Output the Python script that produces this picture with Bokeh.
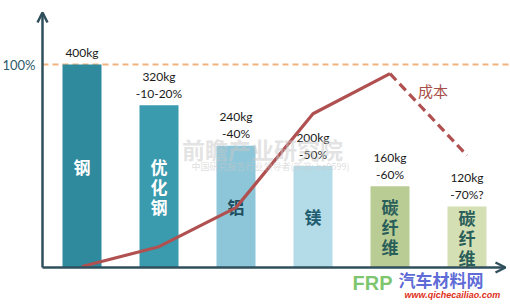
from bokeh.plotting import figure
from bokeh.models import Range1d, ColumnDataSource, Arrow, OpenHead, Label
from bokeh.core.properties import value
from bokeh.embed import file_html
from bokeh.resources import INLINE

# ---- data ----
materials = ["钢", "优化钢", "铝", "镁", "碳纤维", "碳纤维"]
weights = [400, 320, 240, 200, 160, 120]
weight_labels = ["400kg", "320kg", "240kg", "200kg", "160kg", "120kg"]
reduction_labels = ["", "-10-20%", "-40%", "-50%", "-60%", "-70%?"]
cost = [2, 41, 118, 303, 382, 221]
ref_value = 400
ref_label = "100%"
cost_label = "成本"

bar_colors = ["#2F8A9D", "#3A9AAE", "#8DC6D9", "#B4DCE8", "#B8CC94", "#D4E0B4"]
text_colors = ["#FFFFFF", "#FFFFFF", "#1F4E60", "#1F5C70", "#2A5E5A", "#2A5E5A"]

W, H = 510, 306
PX_X = 77.0      # px per category step
PX_Y = 0.5074    # px per kg
x0_px = 81.5
base_px = 39.0   # baseline from bottom

xs = list(range(len(materials)))

p = figure(width=W, height=H, output_backend="svg", toolbar_location=None,
           x_range=Range1d(-x0_px / PX_X, (W - x0_px) / PX_X),
           y_range=Range1d(-base_px / PX_Y, (H - base_px) / PX_Y),
           min_border=0, outline_line_color=None)
p.axis.visible = False
p.grid.visible = False
p.background_fill_color = "white"
p.border_fill_color = "white"

axis_x = (42 - x0_px) / PX_X
axis_color = "#2F4F5C"
CJK = value("Noto Sans CJK SC")
LAT = value("Lato")

# reference dashed line at 100%
p.segment(x0=[axis_x], y0=[ref_value], x1=[p.x_range.end], y1=[ref_value],
          line_color="#F2B27E", line_width=2, line_dash="6 4")
p.add_layout(Label(x=2, y=ref_value, x_units="screen", text=ref_label,
                   text_font="Lato", text_font_size="13px", text_color="#2E5A6A",
                   text_baseline="middle"))

# bars
src = ColumnDataSource(dict(x=xs, top=weights, color=bar_colors))
p.vbar(x="x", top="top", bottom=0, width=39 / PX_X, fill_color="color",
       line_color=None, source=src)

# labels above bars
kg_off = [-12 if r == "" else -29 for r in reduction_labels]
p.text(x=xs, y=weights, text=weight_labels, y_offset=kg_off,
       text_align="center", text_baseline="middle", text_font=LAT,
       text_font_size="12px", text_color="#1A1A1A")
p.text(x=xs, y=weights, text=reduction_labels, y_offset=-12,
       text_align="center", text_baseline="middle", text_font=LAT,
       text_font_size="12px", text_color="#1A1A1A")

# vertical material names inside bars
cx, cy, ct, co, cc = [], [], [], [], []
for i, (m, w) in enumerate(zip(materials, weights)):
    n = len(m)
    for k, ch in enumerate(m):
        cx.append(i)
        cy.append(w / 2)
        ct.append(ch)
        co.append((k - (n - 1) / 2) * 20)
        cc.append(text_colors[i])
p.text(x=cx, y=cy, text=ct, y_offset=co, text_color=cc,
       text_align="center", text_baseline="middle", text_font=CJK,
       text_font_style="bold", text_font_size="17px")

# watermark
p.add_layout(Label(x=262, y=H - 148, x_units="screen", y_units="screen",
                   text="前瞻产业研究院", text_font="Noto Sans CJK SC",
                   text_font_size="23px", text_font_style="bold",
                   text_color="#C8C8C8", text_alpha=0.5,
                   text_align="center", text_baseline="middle"))
p.add_layout(Label(x=270, y=H - 166, x_units="screen", y_units="screen",
                   text="中国研究报告行业领导者(新浪: ba9599)", text_font="Noto Sans CJK SC",
                   text_font_size="9px", text_color="#C8C8C8", text_alpha=0.6,
                   text_align="center", text_baseline="middle"))

# cost line
line_color = "#B05050"
p.line(xs[:5], cost[:5], line_color=line_color, line_width=3.2)
p.line(xs[4:], cost[4:], line_color=line_color, line_width=3.2, line_dash="9 5")
p.add_layout(Label(x=4.56, y=cost[4], y_offset=-17, text=cost_label,
                   text_font="Noto Sans CJK SC", text_font_size="15px",
                   text_color="#A84E48", text_align="center", text_baseline="middle"))

# axes
p.add_layout(Arrow(end=OpenHead(size=10, line_color=axis_color, line_width=2.5),
                   x_start=axis_x, y_start=0, x_end=axis_x, y_end=(H - 12 - base_px) / PX_Y,
                   line_color=axis_color, line_width=2.5))
p.add_layout(Arrow(end=OpenHead(size=10, line_color=axis_color, line_width=2.5),
                   x_start=axis_x, y_start=0, x_end=(505 - x0_px) / PX_X, y_end=0,
                   line_color=axis_color, line_width=2.5))

# bottom-right watermark
p.add_layout(Label(x=352, y=H - 282, x_units="screen", y_units="screen",
                   text="FRP", text_font="Liberation Sans", text_font_size="20px",
                   text_font_style="bold", text_color="#66BB55", text_alpha=0.85,
                   text_baseline="middle"))
p.add_layout(Label(x=398, y=H - 279, x_units="screen", y_units="screen",
                   text="汽车材料网", text_font="Noto Sans CJK SC", text_font_size="17px",
                   text_font_style="bold", text_color="#3344CC", text_alpha=0.8,
                   text_baseline="middle"))
p.add_layout(Label(x=404, y=H - 294, x_units="screen", y_units="screen",
                   text="www.qichecailiao.com", text_font="Liberation Sans",
                   text_font_size="9px", text_font_style="bold italic",
                   text_color="#E03020", text_baseline="middle"))

open("out.html", "w").write(file_html(p, INLINE))
